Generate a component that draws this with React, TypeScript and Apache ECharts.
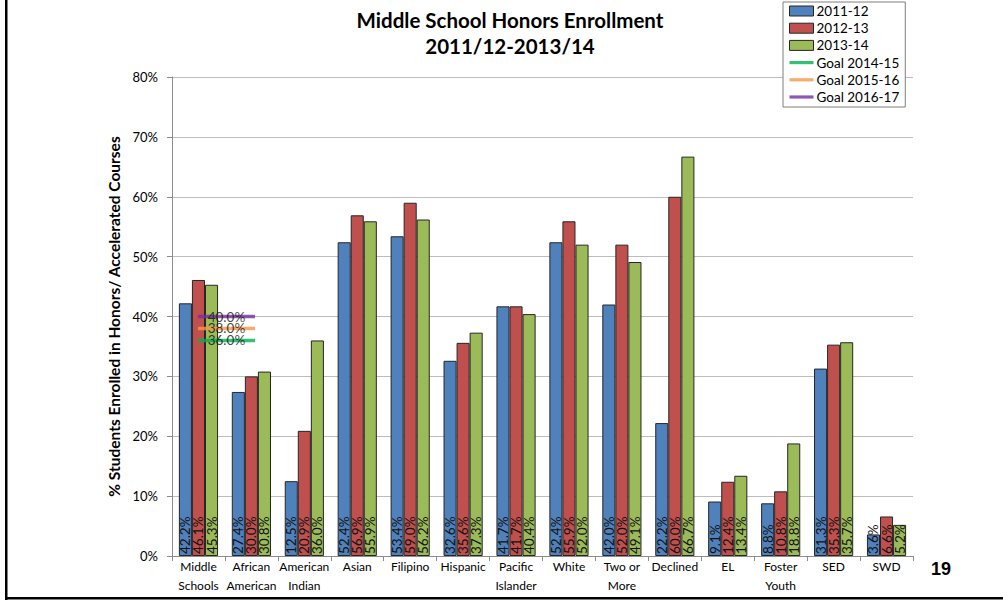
import React, { useEffect, useRef } from "react";
import * as echarts from "echarts";

const categories = [
  "Middle\nSchools", "African\nAmerican", "American\nIndian", "Asian", "Filipino", "Hispanic",
  "Pacific\nIslander", "White", "Two or\nMore", "Declined", "EL", "Foster\nYouth", "SED", "SWD",
];
const s2011 = [42.2, 27.4, 12.5, 52.4, 53.4, 32.6, 41.7, 52.4, 42.0, 22.2, 9.1, 8.8, 31.3, 3.6];
const s2012 = [46.1, 30.0, 20.9, 56.9, 59.0, 35.6, 41.7, 55.9, 52.0, 60.0, 12.4, 10.8, 35.3, 6.6];
const s2013 = [45.3, 30.8, 36.0, 55.9, 56.2, 37.3, 40.4, 52.0, 49.1, 66.7, 13.4, 18.8, 35.7, 5.2];
const goal1415 = 36.0;
const goal1516 = 38.0;
const goal1617 = 40.0;
const yTicks = [0, 10, 20, 30, 40, 50, 60, 70, 80];

const FONT = "Lato, 'Open Sans', sans-serif";

export default function App() {
  const ref = useRef<HTMLDivElement>(null);
  useEffect(() => {
    if (!ref.current) return;
    const chart = echarts.init(ref.current, undefined, { renderer: "svg" });
    const barLabel = {
      show: true,
      position: "insideBottom",
      rotate: 90,
      align: "left",
      verticalAlign: "middle",
      distance: 2,
      color: "#111",
      fontSize: 13.5,
      fontFamily: FONT,
      formatter: (p: any) => Number(p.value).toFixed(1) + "%",
    };
    const barSeries = (name: string, data: number[], color: string) => ({
      name,
      type: "bar",
      data,
      barGap: "0%",
      barCategoryGap: "26%",
      itemStyle: { color, borderColor: "#262626", borderWidth: 1 },
      label: barLabel,
    });
    const goalSeries = (name: string, value: number, color: string) => ({
      name,
      type: "scatter",
      data: categories.map((_, i) => (i === 0 ? value : "-")),
      symbol: "rect",
      symbolSize: [57, 3.5],
      symbolOffset: [28, 0],
      itemStyle: { color },
      z: 5,
      label: {
        show: true,
        position: "inside",
        color: "#111",
        fontSize: 13.5,
        fontFamily: FONT,
        formatter: (p: any) => Number(p.value).toFixed(1) + "%",
      },
    });
    const lineIcon = "path://M0,0 L0,0 M0,3 L30,3 L30,7 L0,7 Z M30,10 L30,10";
    chart.setOption({
      animation: false,
      backgroundColor: "#fff",
      textStyle: { fontFamily: FONT },
      grid: { left: 172, right: 90, top: 77, bottom: 45 },
      legend: {
        orient: "vertical",
        left: 783,
        top: 2,
        padding: [2, 6, 3, 6],
        backgroundColor: "#fff",
        borderColor: "#7f7f7f",
        borderWidth: 1,
        itemWidth: 24,
        itemHeight: 10,
        itemGap: 3.2,
        textStyle: { fontSize: 13.5, lineHeight: 12, color: "#000", fontFamily: FONT, padding: [0, 0, 0, -2] },
        data: [
          { name: "2011-12", icon: "rect", itemStyle: { borderColor: "#262626", borderWidth: 1 } },
          { name: "2012-13", icon: "rect", itemStyle: { borderColor: "#262626", borderWidth: 1 } },
          { name: "2013-14", icon: "rect", itemStyle: { borderColor: "#262626", borderWidth: 1 } },
          { name: "Goal 2014-15", icon: lineIcon },
          { name: "Goal 2015-16", icon: lineIcon },
          { name: "Goal 2016-17", icon: lineIcon },
        ],
      },
      xAxis: {
        type: "category",
        data: categories,
        axisLine: { lineStyle: { color: "#8c8c8c" } },
        axisTick: { show: true, length: 5, lineStyle: { color: "#8c8c8c" } },
        axisLabel: { interval: 0, fontSize: 12, color: "#000", lineHeight: 19, margin: 1, fontFamily: FONT },
      },
      yAxis: {
        type: "value",
        min: yTicks[0],
        max: yTicks[yTicks.length - 1],
        interval: 10,
        name: "% Students Enrolled in Honors/ Accelerated Courses",
        nameLocation: "middle",
        nameGap: 50,
        nameTextStyle: { fontSize: 15.5, fontWeight: "bold", color: "#000", fontFamily: FONT },
        axisLine: { show: true, lineStyle: { color: "#8c8c8c" } },
        axisTick: { show: true, length: 5, lineStyle: { color: "#8c8c8c" } },
        axisLabel: { formatter: "{value}%", fontSize: 13, color: "#000", margin: 14, fontFamily: FONT },
        splitLine: { lineStyle: { color: "#bdbdbd" } },
      },
      series: [
        barSeries("2011-12", s2011, "#4f81bd"),
        barSeries("2012-13", s2012, "#c0504d"),
        barSeries("2013-14", s2013, "#9bbb59"),
        goalSeries("Goal 2014-15", goal1415, "#00b050"),
        goalSeries("Goal 2015-16", goal1516, "#f79646"),
        goalSeries("Goal 2016-17", goal1617, "#7030a0"),
      ],
      graphic: [
        {
          type: "text",
          x: 510,
          y: 7,
          style: {
            text: "Middle School Honors Enrollment\n2011/12-2013/14",
            fontSize: 20.5,
            fontWeight: "bold",
            lineHeight: 26,
            fill: "#000",
            align: "center",
            fontFamily: FONT,
          },
        },
        {
          type: "text",
          x: 931,
          y: 560,
          style: { text: "19", fontSize: 18, fontWeight: "bold", fill: "#000", fontFamily: "Arial, 'Liberation Sans', sans-serif" },
        },
        { type: "rect", shape: { x: 5, y: 0, width: 2.5, height: 600 }, style: { fill: "#000" } },
        { type: "rect", shape: { x: 5, y: 597, width: 998, height: 2.5 }, style: { fill: "#000" } },
      ],
    });
    return () => chart.dispose();
  }, []);
  return (
    <div
      ref={ref}
      style={{ position: "fixed", left: 0, top: 0, width: 1003, height: 601, background: "#fff" }}
    />
  );
}
